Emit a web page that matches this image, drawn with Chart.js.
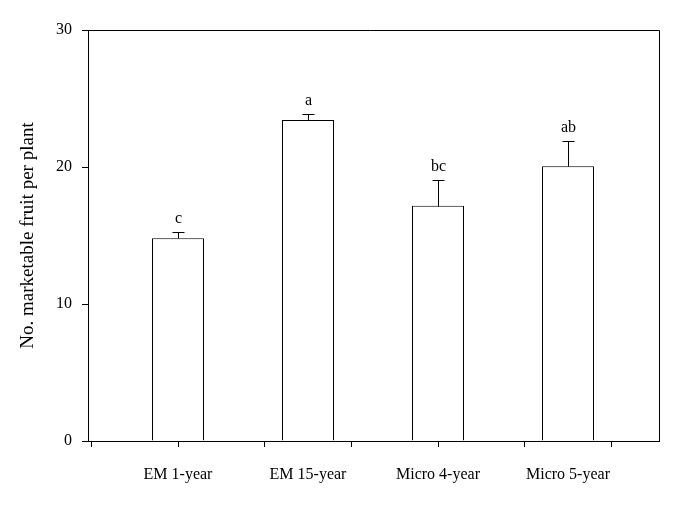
<!DOCTYPE html>
<html>
<head>
<meta charset="utf-8">
<script src="https://cdn.jsdelivr.net/npm/chart.js@4.4.0/dist/chart.umd.min.js"></script>
<style>
  html, body { margin: 0; padding: 0; background: #fff; }
  #wrap { width: 681px; height: 507px; }
</style>
</head>
<body>
<div id="wrap"><canvas id="c" width="681" height="507"></canvas></div>
<script>
const categories = ['EM 1-year', 'EM 15-year', 'Micro 4-year', 'Micro 5-year'];
const positions = [1, 2, 3, 4];
const fruitMeans = [14.8, 23.43, 17.18, 20.05];
const fruitErrors = [0.48, 0.42, 1.85, 1.87];
const sigLetters = ['c', 'a', 'bc', 'ab'];
const yTicks = [0, 10, 20, 30];
const xMarkTicks = [1/3, 1, 5/3, 7/3, 3, 11/3, 13/3];

const FONT = "'Liberation Serif', 'Times New Roman', serif";
const X_MIN = 0.30769, X_MAX = 4.7;

const framePlugin = {
  id: 'frame',
  afterDatasetsDraw(chart) {
    const { ctx, chartArea: a } = chart;
    ctx.save();
    ctx.strokeStyle = '#000';
    ctx.lineWidth = 1;
    ctx.beginPath();
    ctx.moveTo(Math.round(a.left) - 6, Math.round(a.top) + 0.5);
    ctx.lineTo(Math.round(a.right) + 0.5, Math.round(a.top) + 0.5);
    ctx.lineTo(Math.round(a.right) + 0.5, Math.round(a.bottom) + 0.5);
    ctx.stroke();
    ctx.restore();
  }
};

const errorPlugin = {
  id: 'errbars',
  afterDatasetsDraw(chart) {
    const { ctx, scales } = chart;
    const xs = scales.x, ys = scales.y;
    ctx.save();
    ctx.strokeStyle = '#000';
    ctx.lineWidth = 1;
    ctx.fillStyle = '#000';
    ctx.font = '16px ' + FONT;
    ctx.textAlign = 'center';
    ctx.textBaseline = 'alphabetic';
    positions.forEach((p, i) => {
      const x = Math.round(xs.getPixelForValue(p)) + 0.5;
      const yTop = Math.round(ys.getPixelForValue(fruitMeans[i])) + 0.5;
      const yCap = Math.round(ys.getPixelForValue(fruitMeans[i] + fruitErrors[i])) + 0.5;
      ctx.beginPath();
      ctx.moveTo(x, yTop);
      ctx.lineTo(x, yCap);
      ctx.moveTo(x - 6, yCap);
      ctx.lineTo(x + 6, yCap);
      ctx.stroke();
      ctx.fillText(sigLetters[i], x, yCap - 10);
    });
    ctx.restore();
  }
};

new Chart(document.getElementById('c'), {
  type: 'bar',
  data: {
    datasets: [{
      data: positions.map((p, i) => ({ x: p, y: fruitMeans[i] })),
      backgroundColor: '#fff',
      borderColor: '#000',
      borderWidth: 1,
      barThickness: 52,
      inflateAmount: 0,
      xAxisID: 'x',
      yAxisID: 'y'
    }]
  },
  options: {
    responsive: false,
    animation: false,
    devicePixelRatio: 1,
    layout: { padding: { left: 0, right: 22, top: 30, bottom: 0 } },
    plugins: { legend: { display: false }, tooltip: { enabled: false } },
    scales: {
      x: {
        type: 'linear',
        position: 'bottom',
        offset: false,
        min: X_MIN, max: X_MAX,
        afterBuildTicks: s => { s.ticks = xMarkTicks.map(v => ({ value: v })); },
        afterFit: s => { s.height = 8; },
        ticks: { display: false },
        grid: { display: true, offset: false, drawOnChartArea: false, drawTicks: true, tickLength: 6, color: '#000', lineWidth: 1 },
        border: { display: true, color: '#000', width: 1 }
      },
      x2: {
        type: 'linear',
        position: 'bottom',
        offset: false,
        min: X_MIN, max: X_MAX,
        afterBuildTicks: s => { s.ticks = positions.map(v => ({ value: v })); },
        afterFit: s => { s.height = 58; },
        ticks: {
          autoSkip: false, maxRotation: 0, padding: 16,
          color: '#000', font: { family: FONT, size: 16 },
          callback: v => categories[positions.indexOf(v)] ?? ''
        },
        grid: { display: false, offset: false, drawTicks: false },
        border: { display: false }
      },
      y: {
        type: 'linear',
        min: 0, max: 30,
        afterBuildTicks: s => { s.ticks = yTicks.map(v => ({ value: v })); },
        afterFit: s => { s.width = 88; },
        ticks: { padding: 10, color: '#000', font: { family: FONT, size: 16 } },
        grid: { display: true, drawOnChartArea: false, drawTicks: true, tickLength: 6, color: '#000', lineWidth: 1 },
        border: { display: true, color: '#000', width: 1 },
        title: {
          display: true, text: 'No. marketable fruit per plant',
          color: '#000', font: { family: FONT, size: 19 },
          padding: { top: 17, bottom: 0 }
        }
      }
    }
  },
  plugins: [framePlugin, errorPlugin]
});
</script>
</body>
</html>
